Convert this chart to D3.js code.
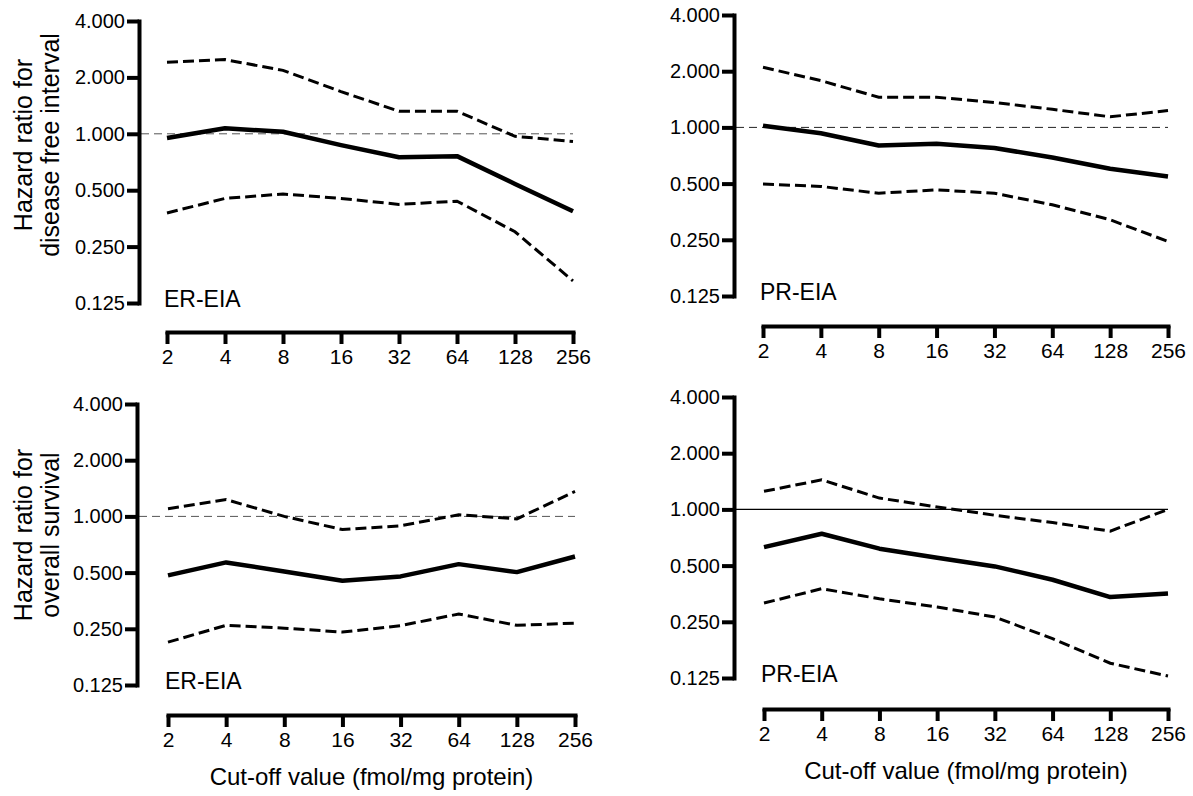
<!DOCTYPE html>
<html>
<head>
<meta charset="utf-8">
<script src="https://cdn.jsdelivr.net/npm/d3@7"></script>
<style>
  html, body { margin: 0; padding: 0; background: #fff; }
  svg { display: block; }
  text { font-family: "Liberation Sans", Arial, Helvetica, sans-serif; fill: #000; }
</style>
</head>
<body>
<svg id="chart" width="1193" height="796"></svg>
<script>
// ---- data ----
const cutoffs = [2, 4, 8, 16, 32, 64, 128, 256];
const yTickValues = [0.125, 0.25, 0.5, 1, 2, 4];
const yTickLabels = ["0.125", "0.250", "0.500", "1.000", "2.000", "4.000"];
const xTickLabels = ["2", "4", "8", "16", "32", "64", "128", "256"];

// Disease free interval, ER-EIA
const dfiER_hr = [0.95, 1.07, 1.025, 0.87, 0.75, 0.76, 0.54, 0.386];
const dfiER_hi = [2.41, 2.49, 2.18, 1.68, 1.32, 1.32, 0.97, 0.91];
const dfiER_lo = [0.378, 0.452, 0.477, 0.452, 0.42, 0.437, 0.30, 0.164];
// Disease free interval, PR-EIA
const dfiPR_hr = [1.02, 0.93, 0.80, 0.817, 0.775, 0.69, 0.60, 0.546];
const dfiPR_hi = [2.10, 1.78, 1.45, 1.45, 1.36, 1.25, 1.14, 1.23];
const dfiPR_lo = [0.497, 0.483, 0.444, 0.463, 0.444, 0.385, 0.32, 0.245];
// Overall survival, ER-EIA
const osER_hr = [0.483, 0.567, 0.507, 0.452, 0.477, 0.555, 0.503, 0.61];
const osER_hi = [1.10, 1.23, 1.0, 0.85, 0.89, 1.02, 0.97, 1.36];
const osER_lo = [0.212, 0.261, 0.252, 0.240, 0.26, 0.30, 0.261, 0.268];
// Overall survival, PR-EIA
const osPR_hr = [0.628, 0.741, 0.616, 0.551, 0.495, 0.42, 0.339, 0.354];
const osPR_hi = [1.25, 1.44, 1.15, 1.03, 0.93, 0.85, 0.765, 1.0];
const osPR_lo = [0.315, 0.376, 0.332, 0.30, 0.265, 0.203, 0.15, 0.128];

const panelLabels = ["ER-EIA", "PR-EIA", "ER-EIA", "PR-EIA"];
const yTitles = [["Hazard ratio for", "disease free interval"], null, ["Hazard ratio for", "overall survival"], null];
const xTitle = "Cut-off value (fmol/mg protein)";

// ---- layout (positions only) ----
const layouts = [
  { yAxisX: 139, yTop: 21,  yBot: 303, xAxisY: 332, xL: 167, xR: 573, ref: "grayDash", titleY: 145, xTitle: false },
  { yAxisX: 734, yTop: 15,  yBot: 296, xAxisY: 326, xL: 763, xR: 1168, ref: "blackDash", titleY: 0, xTitle: false },
  { yAxisX: 137, yTop: 404, yBot: 685, xAxisY: 715, xL: 168, xR: 575, ref: "grayDash", titleY: 535, xTitle: true },
  { yAxisX: 734, yTop: 397, yBot: 678, xAxisY: 709, xL: 764, xR: 1168, ref: "solid", titleY: 0, xTitle: true }
];
const series = [
  [dfiER_hr, dfiER_lo, dfiER_hi],
  [dfiPR_hr, dfiPR_lo, dfiPR_hi],
  [osER_hr, osER_lo, osER_hi],
  [osPR_hr, osPR_lo, osPR_hi]
];

const svg = d3.select("#chart");

layouts.forEach((L, i) => {
  const g = svg.append("g");
  const x = d3.scaleLog().base(2).domain([2, 256]).range([L.xL, L.xR]);
  const y = d3.scaleLog().base(2).domain([0.125, 4]).range([L.yBot, L.yTop]);

  // reference line at 1.0
  const ref = g.append("line")
    .attr("x1", L.yAxisX + 2).attr("x2", L.xR)
    .attr("y1", y(1)).attr("y2", y(1));
  if (L.ref === "grayDash") ref.attr("stroke", "#555").attr("stroke-width", 1).attr("stroke-dasharray", "8,5");
  else if (L.ref === "blackDash") ref.attr("stroke", "#222").attr("stroke-width", 1).attr("stroke-dasharray", "8,5");
  else ref.attr("stroke", "#000").attr("stroke-width", 1.2);

  // y axis
  const yAxis = d3.axisLeft(y)
    .tickValues(yTickValues)
    .tickFormat((d, k) => yTickLabels[k])
    .tickSize(12).tickSizeOuter(0).tickPadding(2);
  const gy = g.append("g").attr("transform", `translate(${L.yAxisX},0)`).call(yAxis);
  gy.select(".domain").attr("stroke-width", 4).attr("stroke-linecap", "square");
  gy.selectAll(".tick line").attr("stroke-width", 4);
  gy.selectAll(".tick text").attr("font-size", 20).attr("font-family", "Liberation Sans, Arial, sans-serif");

  // x axis
  const xAxis = d3.axisBottom(x)
    .tickValues(cutoffs)
    .tickFormat((d, k) => xTickLabels[k])
    .tickSize(12).tickSizeOuter(0).tickPadding(5);
  const gx = g.append("g").attr("transform", `translate(0,${L.xAxisY})`).call(xAxis);
  gx.select(".domain").attr("stroke-width", 4).attr("stroke-linecap", "square");
  gx.selectAll(".tick line").attr("stroke-width", 4);
  gx.selectAll(".tick text").attr("font-size", 21).attr("font-family", "Liberation Sans, Arial, sans-serif");

  const [hr, lo, hi] = series[i];
  const line = d3.line().x((d, k) => x(cutoffs[k])).y(d => y(d));

  [lo, hi].forEach(s => {
    g.append("path").attr("d", line(s))
      .attr("fill", "none").attr("stroke", "#000")
      .attr("stroke-width", 3).attr("stroke-dasharray", "11,5");
  });
  g.append("path").attr("d", line(hr))
    .attr("fill", "none").attr("stroke", "#000")
    .attr("stroke-width", 4.5).attr("stroke-linejoin", "round");

  // panel label
  g.append("text")
    .attr("x", x(2) - 3).attr("y", y(0.125) + 4)
    .attr("font-size", 23)
    .text(panelLabels[i]);

  // y title
  if (yTitles[i]) {
    const t = g.append("text")
      .attr("transform", `translate(32,${L.titleY}) rotate(-90)`)
      .attr("text-anchor", "middle")
      .attr("font-size", 25);
    t.append("tspan").attr("x", 0).attr("y", 0).text(yTitles[i][0]);
    t.append("tspan").attr("x", 0).attr("y", 27).text(yTitles[i][1]);
  }

  // x title
  if (L.xTitle) {
    g.append("text")
      .attr("x", (L.xL + L.xR) / 2).attr("y", L.xAxisY + 70)
      .attr("text-anchor", "middle")
      .attr("font-size", 24)
      .text(xTitle);
  }
});
</script>
</body>
</html>
